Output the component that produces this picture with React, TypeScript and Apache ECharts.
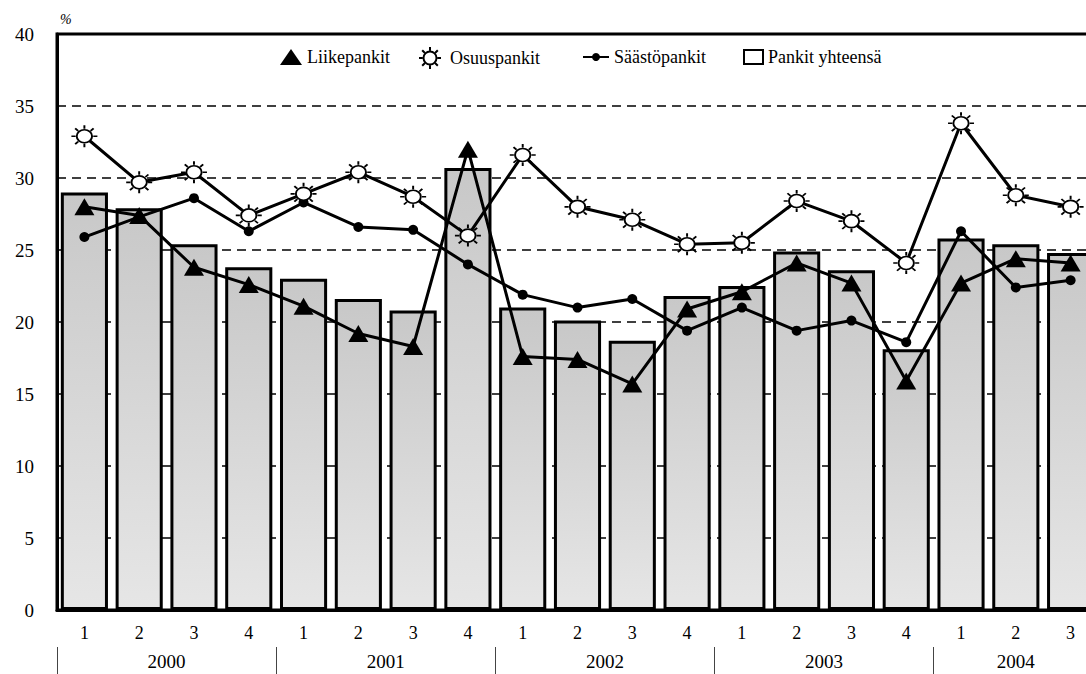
import React, { useEffect, useRef } from "react";
import * as echarts from "echarts";

const quarters = [
  "2000 Q1", "2000 Q2", "2000 Q3", "2000 Q4",
  "2001 Q1", "2001 Q2", "2001 Q3", "2001 Q4",
  "2002 Q1", "2002 Q2", "2002 Q3", "2002 Q4",
  "2003 Q1", "2003 Q2", "2003 Q3", "2003 Q4",
  "2004 Q1", "2004 Q2", "2004 Q3",
];
const quarterLabels = [
  "1", "2", "3", "4", "1", "2", "3", "4", "1", "2", "3", "4",
  "1", "2", "3", "4", "1", "2", "3",
];
const years = ["2000", "2001", "2002", "2003", "2004"];
const quartersPerYear = [4, 4, 4, 4, 3];
const yTicks = [0, 5, 10, 15, 20, 25, 30, 35, 40];

const liikepankit = [28.0, 27.4, 23.8, 22.6, 21.1, 19.2, 18.3, 32.0, 17.6, 17.4, 15.7, 20.9, 22.1, 24.1, 22.7, 15.9, 22.7, 24.4, 24.1];
const osuuspankit = [32.9, 29.7, 30.4, 27.4, 28.9, 30.4, 28.7, 26.0, 31.6, 28.0, 27.1, 25.4, 25.5, 28.4, 27.0, 24.1, 33.8, 28.8, 28.0];
const saastopankit = [25.9, 27.3, 28.6, 26.3, 28.3, 26.6, 26.4, 24.0, 21.9, 21.0, 21.6, 19.4, 21.0, 19.4, 20.1, 18.6, 26.3, 22.4, 22.9];
const pankitYhteensa = [29.0, 27.9, 25.4, 23.8, 23.0, 21.6, 20.8, 30.7, 21.0, 20.1, 18.7, 21.8, 22.5, 24.9, 23.6, 18.1, 25.8, 25.4, 24.8];

const SERIES_NAMES = ["Liikepankit", "Osuuspankit", "Säästöpankit", "Pankit yhteensä"];

const FONT = "'Liberation Serif', 'DejaVu Serif', serif";

const SUN =
  "path://M-6.5 0A6.5 6.5 0 1 0 6.5 0A6.5 6.5 0 1 0 -6.5 0Z" +
  "M0 -7.5L0 -11M0 7.5L0 11M7.5 0L11 0M-7.5 0L-11 0" +
  "M5.3 5.3L7.8 7.8M-5.3 5.3L-7.8 7.8M5.3 -5.3L7.8 -7.8M-5.3 -5.3L-7.8 -7.8";

function legendFor(
  name: string,
  left: number,
  itemWidth: number,
  itemHeight: number,
  extra: any
) {
  const h = Math.max(itemHeight, 20);
  return {
    left,
    top: 57 - h / 2,
    padding: 0,
    itemWidth,
    itemHeight,
    selectedMode: false,
    textStyle: { fontSize: 18, fontFamily: FONT, color: "#000", lineHeight: 20 },
    data: [{ name, ...extra }],
  };
}

export default function App() {
  const ref = useRef<HTMLDivElement>(null);

  useEffect(() => {
    if (!ref.current) return;
    const chart = echarts.init(ref.current, undefined, { renderer: "svg" });

    const yearCentres: Record<string, string> = {};
    let start = 0;
    years.forEach((y, i) => {
      yearCentres[String(start + quartersPerYear[i] / 2)] = y;
      start += quartersPerYear[i];
    });

    const option: any = {
      animation: false,
      backgroundColor: "#fff",
      grid: {
        left: 57,
        top: 34,
        width: 1041,
        height: 576,
        show: true,
        borderColor: "#000",
        borderWidth: 3,
        backgroundColor: "transparent",
      },
      legend: [
        legendFor(SERIES_NAMES[0], 280, 22, 16, { icon: "triangle" }),
        legendFor(SERIES_NAMES[1], 418, 30, 22, { icon: SUN }),
        legendFor(SERIES_NAMES[2], 582, 26, 10, {}),
        legendFor(SERIES_NAMES[3], 743, 19, 14, {
          icon: "rect",
          itemStyle: { color: "#fff", borderColor: "#000", borderWidth: 2 },
        }),
      ],
      xAxis: [
        {
          type: "category",
          data: quarters,
          position: "bottom",
          axisLine: { show: true, lineStyle: { color: "#000", width: 3 } },
          axisTick: { show: false },
          axisLabel: {
            interval: 0,
            margin: 14,
            fontSize: 18,
            fontFamily: FONT,
            color: "#000",
            formatter: (_v: string, i: number) => quarterLabels[i],
          },
          splitLine: { show: false },
        },
        {
          type: "value",
          min: 0,
          max: 19,
          interval: 0.5,
          position: "bottom",
          offset: 37,
          axisLine: { show: false },
          axisTick: { show: false },
          splitLine: { show: false },
          axisLabel: {
            margin: 5,
            fontSize: 19,
            fontFamily: FONT,
            color: "#000",
            formatter: (v: number) => yearCentres[String(v)] || "",
          },
        },
        {
          type: "value",
          min: 0,
          max: 19,
          interval: 4,
          position: "bottom",
          offset: 37,
          axisLine: { show: false },
          axisTick: { show: true, length: 27, lineStyle: { color: "#444", width: 1 } },
          axisLabel: { show: false },
          splitLine: { show: false },
        },
      ],
      yAxis: {
        type: "value",
        min: 0,
        max: 40,
        interval: 5,
        name: "%",
        nameLocation: "end",
        nameGap: 8,
        nameTextStyle: {
          fontSize: 14,
          fontFamily: FONT,
          fontStyle: "italic",
          color: "#000",
          align: "left",
          padding: [0, 0, 0, 3],
        },
        axisLine: { show: true, lineStyle: { color: "#000", width: 3 } },
        axisTick: { show: false },
        axisLabel: {
          margin: 23,
          fontSize: 19,
          fontFamily: FONT,
          color: "#000",
          formatter: (v: number) => (yTicks.indexOf(v) >= 0 ? String(v) : ""),
        },
        splitLine: {
          show: true,
          lineStyle: { color: "#000", width: 1.5, type: [9, 6] },
        },
      },
      series: [
        {
          name: SERIES_NAMES[3],
          type: "bar",
          data: pankitYhteensa,
          barWidth: "86%",
          itemStyle: {
            color: new echarts.graphic.LinearGradient(0, 0, 0, 1, [
              { offset: 0, color: "#c8c8c8" },
              { offset: 1, color: "#e6e6e6" },
            ]),
            borderColor: "#000",
            borderWidth: 3,
          },
          z: 2,
        },
        {
          name: SERIES_NAMES[2],
          type: "line",
          data: saastopankit,
          symbol: "circle",
          symbolSize: 10,
          lineStyle: { color: "#000", width: 3 },
          itemStyle: { color: "#000" },
          z: 3,
        },
        {
          name: SERIES_NAMES[0],
          type: "line",
          data: liikepankit,
          symbol: "triangle",
          symbolSize: [20, 17],
          lineStyle: { color: "#000", width: 3 },
          itemStyle: { color: "#000" },
          z: 4,
        },
        {
          name: SERIES_NAMES[1],
          type: "line",
          data: osuuspankit,
          symbol: SUN,
          symbolSize: [26, 22],
          lineStyle: { color: "#000", width: 3 },
          itemStyle: { color: "#fff", borderColor: "#000", borderWidth: 1.8 },
          z: 5,
        },
      ],
    };

    chart.setOption(option);
    return () => chart.dispose();
  }, []);

  return (
    <div
      style={{
        position: "absolute",
        left: 0,
        top: 0,
        width: 1086,
        height: 674,
        overflow: "hidden",
        background: "#fff",
      }}
    >
      <div ref={ref} style={{ width: 1110, height: 674 }} />
    </div>
  );
}
